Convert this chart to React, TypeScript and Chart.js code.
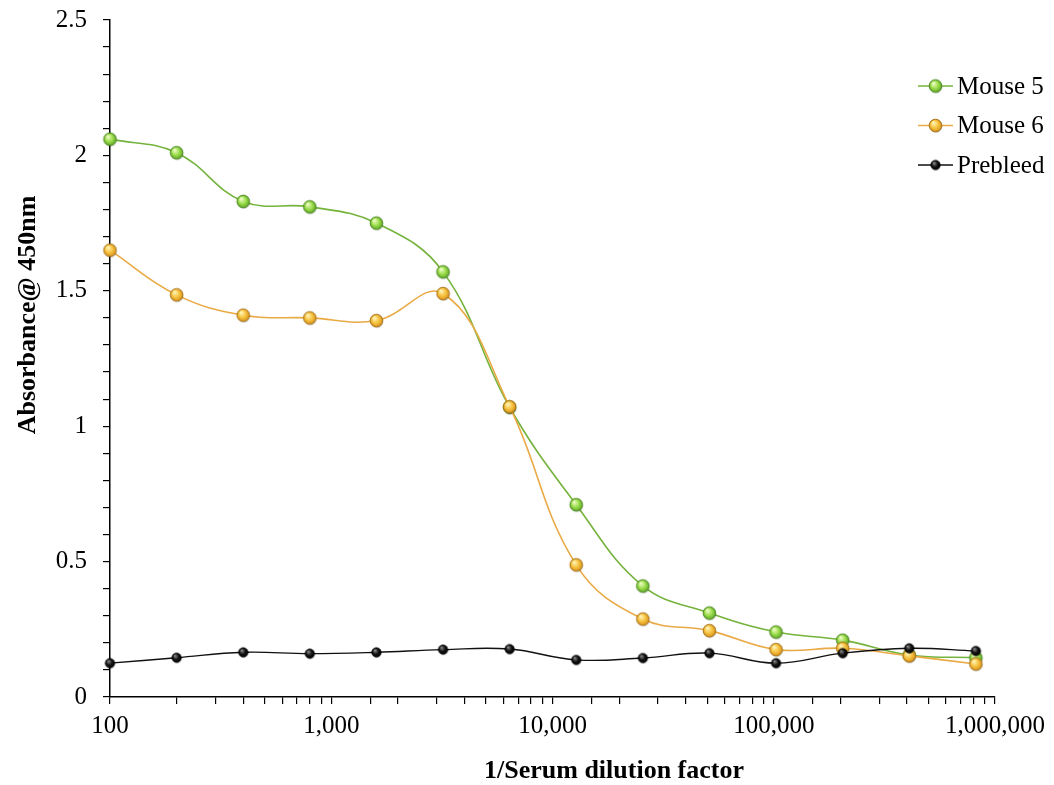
import React, { useEffect, useRef } from "react";
import { Chart, registerables } from "chart.js";

Chart.register(...registerables);

const dilutions = [100, 200, 400, 800, 1600, 3200, 6400, 12800, 25600, 51200, 102400, 204800, 409600, 819200];
const mouse5 = [2.06, 2.01, 1.83, 1.81, 1.75, 1.57, 1.07, 0.71, 0.41, 0.31, 0.24, 0.21, 0.155, 0.145];
const mouse6 = [1.65, 1.485, 1.41, 1.4, 1.39, 1.49, 1.072, 0.488, 0.288, 0.245, 0.175, 0.18, 0.152, 0.122];
const prebleed = [0.125, 0.145, 0.165, 0.16, 0.165, 0.175, 0.177, 0.137, 0.144, 0.162, 0.125, 0.162, 0.18, 0.17];

const seriesNames = ["Mouse 5", "Mouse 6", "Prebleed"];
const xTitle = "1/Serum dilution factor";
const yTitle = "Absorbance@ 450nm";
const yMin = 0;
const yMax = 2.5;
const xMin = 100;
const xMax = 1000000;

const FONT = "'Liberation Serif', 'Times New Roman', serif";

function makeSphere(r: number, hi: string, mid: string, lo: string, stroke: string): HTMLCanvasElement {
  let size = Math.ceil(r * 2 + 5);
  if (size % 2 === 0) size += 1;
  const c = document.createElement("canvas");
  c.width = size;
  c.height = size;
  const ctx = c.getContext("2d")!;
  const cx = size / 2;
  ctx.beginPath();
  ctx.arc(cx + 0.6, cx + 1.1, r, 0, Math.PI * 2);
  ctx.fillStyle = "rgba(0,0,0,0.18)";
  ctx.fill();
  const g = ctx.createRadialGradient(cx - r * 0.35, cx - r * 0.45, r * 0.1, cx, cx, r);
  g.addColorStop(0, hi);
  g.addColorStop(0.55, mid);
  g.addColorStop(1, lo);
  ctx.beginPath();
  ctx.arc(cx, cx, r, 0, Math.PI * 2);
  ctx.fillStyle = g;
  ctx.fill();
  ctx.lineWidth = 1;
  ctx.strokeStyle = stroke;
  ctx.stroke();
  return c;
}

export default function App() {
  const ref = useRef<HTMLCanvasElement | null>(null);

  useEffect(() => {
    if (!ref.current) return;
    const greenDot = makeSphere(6.3, "#eefcc8", "#9ede4c", "#5ea82a", "#4f8a22");
    const orangeDot = makeSphere(6.3, "#fff4b8", "#f7c441", "#d8921c", "#a8741a");
    const blackDot = makeSphere(4.6, "#888888", "#151515", "#000000", "#000000");
    const lineColors = ["#74b33c", "#e9aa45", "#111111"];
    const dots = [greenDot, orangeDot, blackDot];

    const overlay = {
      id: "overlay",
      afterDraw(chart: any) {
        const ctx = chart.ctx as CanvasRenderingContext2D;
        ctx.save();
        ctx.fillStyle = "#000";
        ctx.font = `bold 26px ${FONT}`;
        ctx.textAlign = "center";
        ctx.textBaseline = "middle";
        ctx.fillText(xTitle, 614, 771);
        ctx.save();
        ctx.translate(28, 315);
        ctx.rotate(-Math.PI / 2);
        ctx.fillText(yTitle, 0, 0);
        ctx.restore();
        const rows = [86, 125.5, 165];
        ctx.font = `25px ${FONT}`;
        ctx.textAlign = "left";
        for (let i = 0; i < 3; i++) {
          const y = rows[i];
          ctx.beginPath();
          ctx.moveTo(918, y);
          ctx.lineTo(953, y);
          ctx.strokeStyle = lineColors[i];
          ctx.lineWidth = 1.5;
          ctx.stroke();
          const d = dots[i];
          ctx.drawImage(d, 935.5 - d.width / 2, y - d.height / 2);
          ctx.fillStyle = "#000";
          ctx.fillText(seriesNames[i], 957, y + 1);
        }
        ctx.restore();
      },
    };

    const mk = (i: number, data: number[], order: number, width: number) => ({
      label: seriesNames[i],
      data: dilutions.map((x, k) => ({ x, y: data[k] })),
      borderColor: lineColors[i],
      borderWidth: width,
      tension: 0.4,
      pointStyle: dots[i],
      pointRadius: 6,
      pointHoverRadius: 6,
      fill: false,
      clip: false,
      order,
    });

    const chart = new Chart(ref.current, {
      type: "line",
      data: {
        datasets: [mk(0, mouse5, 2, 1.6), mk(1, mouse6, 1, 1.6), mk(2, prebleed, 0, 1.4)],
      },
      plugins: [overlay],
      options: {
        animation: false,
        responsive: false,
        devicePixelRatio: 1,
        layout: { padding: { left: 0, top: 20, right: 59, bottom: 0 } },
        plugins: {
          legend: { display: false },
          tooltip: { enabled: false },
        },
        scales: {
          x: {
            type: "logarithmic",
            min: xMin,
            max: xMax,
            border: { display: true, color: "#000", width: 1.5 },
            grid: { display: true, drawOnChartArea: false, drawTicks: true, tickLength: 7, color: "#000", lineWidth: 1.2 },
            ticks: {
              autoSkip: false,
              maxRotation: 0,
              minRotation: 0,
              padding: 7,
              color: "#000",
              font: { family: FONT, size: 25 },
              callback: (v: any) => {
                const n = Number(v);
                const l = Math.log10(n);
                if (Math.abs(l - Math.round(l)) < 1e-9) return Math.round(n).toLocaleString("en-US");
                return "";
              },
            },
            afterFit: (s: any) => {
              s.height = 88;
              s.paddingLeft = 0;
              s.paddingRight = 0;
            },
          },
          y: {
            type: "linear",
            min: yMin,
            max: yMax,
            border: { display: true, color: "#000", width: 1.5 },
            grid: { display: true, drawOnChartArea: false, drawTicks: true, tickLength: 7, color: "#000", lineWidth: 1.2 },
            ticks: {
              stepSize: 0.1,
              autoSkip: false,
              padding: 16,
              color: "#000",
              font: { family: FONT, size: 25 },
              callback: (v: any) => {
                const n = Number(v);
                if (Math.abs(n * 2 - Math.round(n * 2)) < 1e-6) return String(Math.round(n * 10) / 10);
                return "";
              },
            },
            afterFit: (s: any) => {
              s.width = 110;
              s.paddingTop = 0;
              s.paddingBottom = 0;
            },
          },
        },
      } as any,
    });
    return () => chart.destroy();
  }, []);

  return (
    <div style={{ position: "fixed", left: 0, top: 0, width: 1054, height: 785, background: "#fff" }}>
      <canvas ref={ref} width={1054} height={785} style={{ width: 1054, height: 785, display: "block" }} />
    </div>
  );
}
